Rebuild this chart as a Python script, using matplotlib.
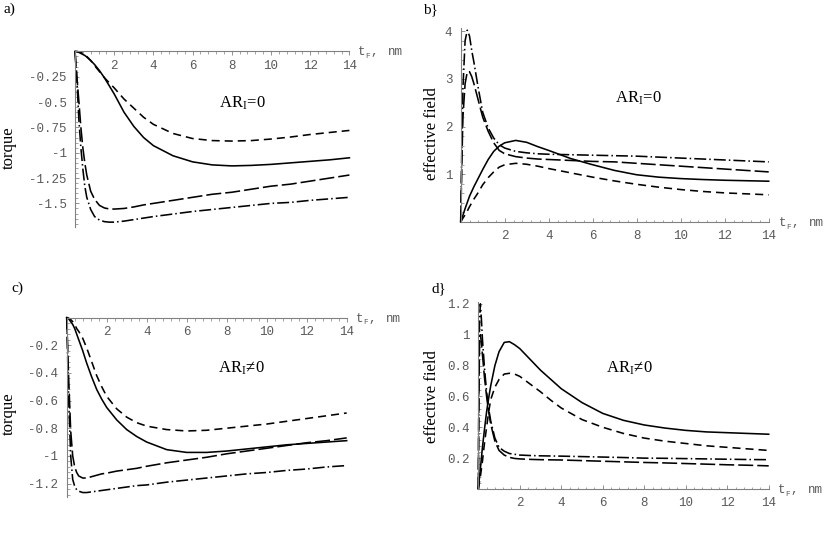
import matplotlib
matplotlib.use('Agg')
import matplotlib.pyplot as plt
from matplotlib.ticker import FixedLocator, MultipleLocator

plt.rcParams['lines.scale_dashes'] = False
plt.rcParams['axes.unicode_minus'] = False
plt.rcParams['mathtext.fontset'] = 'custom'
plt.rcParams['mathtext.rm'] = 'Liberation Serif'
plt.rcParams['mathtext.it'] = 'Liberation Serif:italic'
plt.rcParams['mathtext.fallback'] = 'stix'

# ---------------- data ----------------
# panel a (torque, AR_I = 0)
xa = [0, 0.1, 0.2, 0.3, 0.4, 0.5, 0.6, 0.8, 1.0, 1.25, 1.5, 1.75, 2.0, 2.5, 3, 3.5, 4, 5, 6, 7, 8, 9, 10, 11, 12, 13, 14]
a_solid = [0, -0.005, -0.01, -0.02, -0.03, -0.04, -0.055, -0.09, -0.13, -0.19, -0.26, -0.34, -0.42, -0.6, -0.74, -0.85, -0.93, -1.03, -1.09, -1.12, -1.13, -1.125, -1.115, -1.1, -1.085, -1.07, -1.05]
a_short = [0, 0, -0.005, -0.01, -0.02, -0.03, -0.05, -0.09, -0.14, -0.2, -0.26, -0.31, -0.36, -0.47, -0.56, -0.65, -0.72, -0.81, -0.86, -0.88, -0.885, -0.88, -0.865, -0.845, -0.82, -0.8, -0.78]
a_long = [0, -0.26, -0.5, -0.75, -0.95, -1.1, -1.22, -1.38, -1.46, -1.52, -1.545, -1.555, -1.556, -1.55, -1.535, -1.515, -1.5, -1.47, -1.44, -1.41, -1.39, -1.36, -1.33, -1.31, -1.28, -1.25, -1.22]
a_dashdot = [0, -0.3, -0.68, -0.95, -1.16, -1.33, -1.44, -1.56, -1.63, -1.665, -1.68, -1.685, -1.685, -1.675, -1.66, -1.645, -1.63, -1.605, -1.58, -1.56, -1.54, -1.52, -1.5, -1.49, -1.47, -1.455, -1.44]
a_yticks = [-0.25, -0.5, -0.75, -1.0, -1.25, -1.5]
a_ylabels = ['-0.25', '-0.5', '-0.75', '-1', '-1.25', '-1.5']

# panel b (effective field, AR_I = 0)
xb = [0, 0.05, 0.1, 0.2, 0.3, 0.4, 0.5, 0.6, 0.8, 1.0, 1.25, 1.5, 1.75, 2.0, 2.5, 3, 3.5, 4, 5, 6, 7, 8, 9, 10, 11, 12, 13, 14]
b_solid = [0, 0.07, 0.14, 0.28, 0.41, 0.54, 0.64, 0.74, 0.92, 1.1, 1.31, 1.48, 1.59, 1.66, 1.71, 1.67, 1.58, 1.5, 1.33, 1.2, 1.08, 0.99, 0.94, 0.91, 0.89, 0.875, 0.865, 0.855]
b_short = [0, 0.04, 0.08, 0.15, 0.23, 0.32, 0.4, 0.48, 0.62, 0.78, 0.93, 1.05, 1.15, 1.2, 1.23, 1.21, 1.17, 1.12, 1.03, 0.94, 0.86, 0.79, 0.73, 0.68, 0.64, 0.61, 0.59, 0.57]
b_long = [0, 1.2, 2.2, 2.9, 3.15, 3.15, 3.05, 2.9, 2.55, 2.2, 1.9, 1.66, 1.5, 1.43, 1.37, 1.34, 1.32, 1.31, 1.29, 1.27, 1.26, 1.23, 1.2, 1.17, 1.14, 1.11, 1.08, 1.05]
b_dashdot = [0, 1.5, 2.8, 3.8, 4.02, 3.9, 3.6, 3.35, 2.8, 2.3, 1.97, 1.76, 1.62, 1.55, 1.48, 1.45, 1.43, 1.42, 1.41, 1.4, 1.39, 1.38, 1.36, 1.34, 1.32, 1.3, 1.28, 1.26]
b_yticks = [1, 2, 3, 4]
b_ylabels = ['1', '2', '3', '4']

# panel c (torque, AR_I != 0)
xc = [0, 0.1, 0.2, 0.3, 0.4, 0.5, 0.6, 0.8, 1.0, 1.25, 1.5, 1.75, 2.0, 2.5, 3, 3.5, 4, 5, 6, 7, 8, 9, 10, 11, 12, 13, 14]
c_solid = [0, -0.01, -0.03, -0.05, -0.08, -0.12, -0.16, -0.24, -0.33, -0.43, -0.52, -0.59, -0.65, -0.74, -0.81, -0.86, -0.9, -0.955, -0.975, -0.975, -0.965, -0.95, -0.935, -0.92, -0.91, -0.9, -0.89]
c_short = [0, -0.005, -0.015, -0.03, -0.05, -0.08, -0.1, -0.15, -0.22, -0.32, -0.42, -0.5, -0.57, -0.66, -0.72, -0.76, -0.785, -0.81, -0.82, -0.815, -0.8, -0.785, -0.77, -0.75, -0.73, -0.71, -0.69]
c_long = [0, -0.45, -0.82, -1.0, -1.08, -1.12, -1.145, -1.16, -1.16, -1.15, -1.14, -1.13, -1.125, -1.11, -1.1, -1.09, -1.075, -1.05, -1.03, -1.01, -0.985, -0.965, -0.945, -0.925, -0.905, -0.89, -0.87]
c_dashdot = [0, -0.6, -1.0, -1.17, -1.22, -1.245, -1.255, -1.265, -1.265, -1.26, -1.255, -1.25, -1.245, -1.235, -1.225, -1.215, -1.21, -1.19, -1.175, -1.16, -1.145, -1.13, -1.12, -1.105, -1.095, -1.08, -1.07]
c_yticks = [-0.2, -0.4, -0.6, -0.8, -1.0, -1.2]
c_ylabels = ['-0.2', '-0.4', '-0.6', '-0.8', '-1', '-1.2']

# panel d (effective field, AR_I != 0)
xd = [0, 0.03, 0.06, 0.1, 0.15, 0.2, 0.3, 0.4, 0.5, 0.6, 0.8, 1.0, 1.25, 1.5, 1.75, 2, 2.5, 3, 3.5, 4, 5, 6, 7, 8, 9, 10, 11, 12, 13, 14]
d_solid = [0, 0.04, 0.08, 0.13, 0.2, 0.27, 0.39, 0.5, 0.59, 0.67, 0.8, 0.89, 0.95, 0.955, 0.935, 0.91, 0.84, 0.77, 0.71, 0.65, 0.56, 0.49, 0.445, 0.415, 0.395, 0.38, 0.37, 0.365, 0.36, 0.355]
d_short = [0, 0.02, 0.05, 0.08, 0.13, 0.18, 0.3, 0.4, 0.5, 0.58, 0.66, 0.71, 0.745, 0.75, 0.745, 0.73, 0.68, 0.63, 0.575, 0.525, 0.45, 0.4, 0.36, 0.33, 0.31, 0.295, 0.28, 0.27, 0.26, 0.25]
d_long = [0, 0.6, 0.95, 1.0, 0.95, 0.87, 0.72, 0.6, 0.5, 0.42, 0.31, 0.25, 0.22, 0.205, 0.198, 0.195, 0.192, 0.19, 0.189, 0.188, 0.184, 0.18, 0.176, 0.172, 0.169, 0.165, 0.161, 0.157, 0.154, 0.15]
d_dashdot = [0, 0.7, 1.1, 1.2, 1.1, 0.97, 0.78, 0.63, 0.52, 0.44, 0.33, 0.27, 0.245, 0.23, 0.225, 0.22, 0.217, 0.215, 0.214, 0.213, 0.21, 0.207, 0.204, 0.2, 0.199, 0.197, 0.195, 0.193, 0.191, 0.19]
d_yticks = [0.2, 0.4, 0.6, 0.8, 1.0, 1.2]
d_ylabels = ['0.2', '0.4', '0.6', '0.8', '1', '1.2']

x_ticks = [2, 4, 6, 8, 10, 12, 14]
x_ticklabels = ['2', '4', '6', '8', '10', '12', '14']

# ---------------- figure ----------------
W, H = 831, 539
fig = plt.figure(figsize=(W / 100, H / 100), dpi=100)

GRAY = '#5a5a5a'
AXC = '#808080'
MONO = 'Liberation Mono'
SERIF = ['Liberation Serif', 'DejaVu Serif']
LW = 1.15
STY = {
    'solid': dict(linestyle='-'),
    'short': dict(dashes=(5.8, 3.6)),
    'long': dict(dashes=(10.8, 2.9)),
    'dashdot': dict(dashes=(8.6, 2.2, 1.1, 2.2)),
}


def fx(px):
    return px / W


def fy(py):
    return 1 - py / H


def make_panel(x0, x1, ytop, ybot, ylim, xaxis_top, x, series, yticks, ylabels, yminor):
    ax = fig.add_axes([fx(x0), fy(ybot), (x1 - x0) / W, (ybot - ytop) / H])
    for key, y in series:
        ax.plot(x, y, color='black', lw=LW, clip_on=False, **STY[key])
    ax.set_xlim(0, 14)
    ax.set_ylim(*ylim)
    for s in ('top', 'right'):
        ax.spines[s].set_visible(False)
    ax.spines['bottom'].set_position(('data', 0))
    for s in ('left', 'bottom'):
        ax.spines[s].set_color(AXC)
        ax.spines[s].set_linewidth(0.8)
    ax.set_facecolor('none')
    ax.xaxis.set_major_locator(FixedLocator(x_ticks))
    ax.set_xticklabels(x_ticklabels)
    ax.xaxis.set_minor_locator(MultipleLocator(0.4))
    ax.yaxis.set_major_locator(FixedLocator(yticks))
    ax.set_yticklabels(ylabels)
    ax.yaxis.set_minor_locator(MultipleLocator(yminor))
    xdir = 'out' if xaxis_top else 'in'
    xpad = 3 if xaxis_top else 6
    ax.tick_params(axis='x', which='major', direction=xdir, length=3.2, width=0.6, color=AXC, pad=xpad)
    ax.tick_params(axis='x', which='minor', direction=xdir, length=1.8, width=0.5, color=AXC)
    ax.tick_params(axis='y', which='major', direction='in', length=3.2, width=0.6, color=AXC, pad=6)
    ax.tick_params(axis='y', which='minor', direction='in', length=1.8, width=0.5, color=AXC)
    for lab in ax.get_xticklabels() + ax.get_yticklabels():
        lab.set_fontfamily(MONO)
        lab.set_fontsize(9)
        lab.set_color(GRAY)
    return ax


make_panel(75, 349.4, 51.4, 226.7, (-1.73, 0), True, xa,
           [('solid', a_solid), ('short', a_short), ('long', a_long), ('dashdot', a_dashdot)],
           a_yticks, a_ylabels, 0.05)
make_panel(460.7, 768.7, 28.3, 222.0, (0, 4.06), False, xb,
           [('solid', b_solid), ('short', b_short), ('long', b_long), ('dashdot', b_dashdot)],
           b_yticks, b_ylabels, 0.2)
make_panel(66.7, 346.7, 317.5, 496.7, (-1.295, 0), True, xc,
           [('solid', c_solid), ('short', c_short), ('long', c_long), ('dashdot', c_dashdot)],
           c_yticks, c_ylabels, 0.04)
make_panel(478.3, 768.7, 301.7, 489.0, (0, 1.214), False, xd,
           [('solid', d_solid), ('short', d_short), ('long', d_long), ('dashdot', d_dashdot)],
           d_yticks, d_ylabels, 0.04)


# x-axis names "t_F,  nm"
def tf_label(px, axis_y):
    fig.text(fx(px), fy(axis_y + 4), 't', family=MONO, fontsize=9, color=GRAY, va='baseline')
    fig.text(fx(px + 7), fy(axis_y + 7), 'F', family=MONO, fontsize=5.5, color=GRAY, va='baseline')
    fig.text(fx(px + 12), fy(axis_y + 4), ',', family=MONO, fontsize=9, color=GRAY, va='baseline')
    fig.text(fx(px + 30), fy(axis_y + 4), 'nm', family=MONO, fontsize=9, color=GRAY, va='baseline')


tf_label(358, 51.4)
tf_label(779, 222.0)
tf_label(356, 317.5)
tf_label(778, 489.0)


# annotations AR_I = 0 / AR_I != 0
def ar_label(px, base, rel):
    fig.text(fx(px), fy(base), r'$\mathrm{AR}_{\mathrm{I}}' + rel + r'\mathrm{0}$',
             fontsize=12, va='baseline')


ar_label(219, 108, r'\!\mathrm{=}\!')
ar_label(615, 103, r'\!\mathrm{=}\!')
ar_label(218, 373, r'\!\neq\!')
ar_label(606, 373, r'\!\neq\!')

# y-axis names
fig.text(fx(8.5), fy(148), 'torque', family=SERIF, fontsize=12, rotation=90, ha='center', va='center')
fig.text(fx(8.5), fy(414), 'torque', family=SERIF, fontsize=12, rotation=90, ha='center', va='center')
fig.text(fx(432), fy(134), 'effective field', family=SERIF, fontsize=12, rotation=90, ha='center', va='center')
fig.text(fx(432), fy(397), 'effective field', family=SERIF, fontsize=12, rotation=90, ha='center', va='center')

# panel letters
fig.text(fx(3), fy(13), 'a)', family=SERIF, fontsize=11, va='baseline')
fig.text(fx(423), fy(13), 'b}', family=SERIF, fontsize=11, va='baseline')
fig.text(fx(11), fy(292), 'c)', family=SERIF, fontsize=11, va='baseline')
fig.text(fx(432), fy(292), 'd}', family=SERIF, fontsize=11, va='baseline')

fig.savefig('out.png', dpi=100)
